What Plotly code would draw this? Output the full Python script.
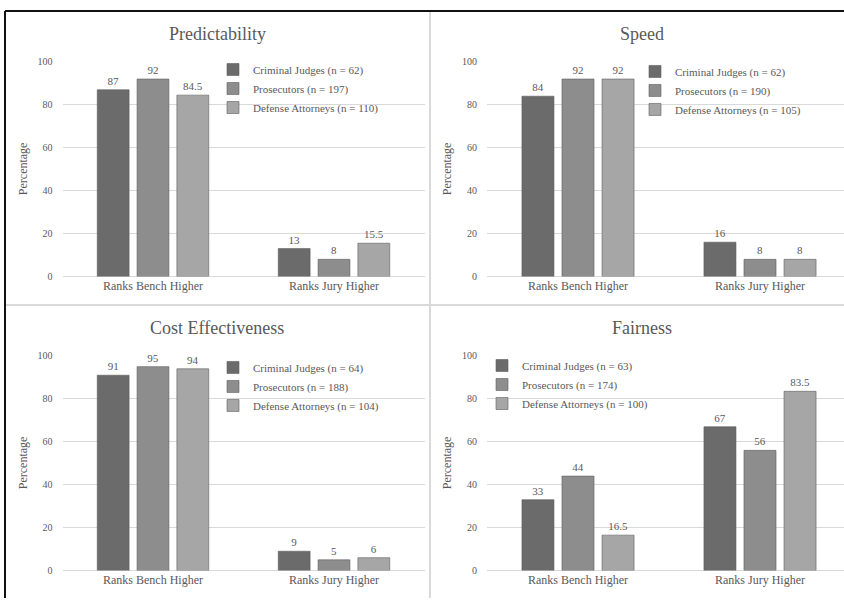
import plotly.graph_objects as go

W, H = 844, 604

categories = ["Ranks Bench Higher", "Ranks Jury Higher"]
series_names = ["Criminal Judges", "Prosecutors", "Defense Attorneys"]
colors = ["#6b6b6b", "#8d8d8d", "#a6a6a6"]

panel_titles = ["Predictability", "Speed", "Cost Effectiveness", "Fairness"]

# sample sizes per panel (Criminal Judges, Prosecutors, Defense Attorneys)
n_predictability = [62, 197, 110]
n_speed = [62, 190, 105]
n_cost = [64, 188, 104]
n_fairness = [63, 174, 100]

# values per panel: [Bench, Jury] per series
predictability_judges = [87, 13]
predictability_prosecutors = [92, 8]
predictability_defense = [84.5, 15.5]

speed_judges = [84, 16]
speed_prosecutors = [92, 8]
speed_defense = [92, 8]

cost_judges = [91, 9]
cost_prosecutors = [95, 5]
cost_defense = [94, 6]

fairness_judges = [33, 67]
fairness_prosecutors = [44, 56]
fairness_defense = [16.5, 83.5]

panels = [
    (panel_titles[0], n_predictability, [predictability_judges, predictability_prosecutors, predictability_defense]),
    (panel_titles[1], n_speed, [speed_judges, speed_prosecutors, speed_defense]),
    (panel_titles[2], n_cost, [cost_judges, cost_prosecutors, cost_defense]),
    (panel_titles[3], n_fairness, [fairness_judges, fairness_prosecutors, fairness_defense]),
]

FONT = "'Times New Roman', 'Liberation Serif', 'DejaVu Serif', serif"
TXT = "#595959"
GRID = "#d9d9d9"

def px_x(x):
    return x / W

def px_y(y):
    return 1 - y / H

# geometry (pixels)
left_x = (62.5, 424.5)
right_x = (487, 844)
right_range_end = -0.5 + (844 - 487) / 182.0
top_y = (276, 57)      # y of 0, y of 100
bot_y = (576, 357)

geo = [
    (left_x, top_y, [-0.5, 1.5]),
    (right_x, top_y, [-0.5, right_range_end]),
    (left_x, bot_y, [-0.5, 1.5]),
    (right_x, bot_y, [-0.5, right_range_end]),
]

title_pos = [(217, 29), (642, 29), (217, 329), (642, 329)]
ytitle_x = [23, 447, 23, 447]
legend_pos = [(213, 50), (635, 52), (213, 354), (482, 352)]

fig = go.Figure()
layout = dict(
    width=W, height=H,
    margin=dict(l=0, r=0, t=0, b=0),
    paper_bgcolor="white", plot_bgcolor="white",
    font=dict(family=FONT, color=TXT, size=11),
    barmode="group", bargap=0.34, bargroupgap=0.2,
    showlegend=True,
)

annotations = []
for i, (title, ns, vals) in enumerate(panels):
    k = i + 1
    xa = "x" if k == 1 else f"x{k}"
    ya = "y" if k == 1 else f"y{k}"
    leg = "legend" if k == 1 else f"legend{k}"
    for s in range(3):
        fig.add_trace(go.Bar(
            x=categories, y=vals[s],
            name=f"{series_names[s]} (n = {ns[s]})",
            marker=dict(color=colors[s], line=dict(color="#5e5e5e", width=0.6)),
            text=[f"{v:g}" for v in vals[s]],
            textposition="outside",
            textfont=dict(family=FONT, size=11, color=TXT),
            cliponaxis=False,
            xaxis=xa, yaxis=ya, legend=leg,
            hoverinfo="skip",
        ))
    (x0, x1), (y0, y1), xr = geo[i]
    layout["xaxis" if k == 1 else f"xaxis{k}"] = dict(
        domain=[px_x(x0), min(1.0, px_x(x1))], range=xr,
        anchor=ya, showgrid=False, showline=False, zeroline=False,
        ticks="", tickfont=dict(family=FONT, size=12, color=TXT),
        fixedrange=True,
    )
    layout["yaxis" if k == 1 else f"yaxis{k}"] = dict(
        domain=[px_y(y0), px_y(y1)], range=[0, 100],
        anchor=xa, tickvals=[0, 20, 40, 60, 80, 100],
        showgrid=True, gridcolor=GRID, gridwidth=1,
        zeroline=True, zerolinecolor=GRID, zerolinewidth=1,
        showline=False, ticks="", ticklabelstandoff=9,
        tickfont=dict(family=FONT, size=10, color=TXT),
        fixedrange=True,
    )
    lx, ly = legend_pos[i]
    layout[leg] = dict(
        x=px_x(lx), y=px_y(ly), xanchor="left", yanchor="top",
        bgcolor="rgba(0,0,0,0)", itemwidth=30,
        font=dict(family=FONT, size=11, color=TXT),
        itemclick=False, itemdoubleclick=False,
    )
    tx, ty = title_pos[i]
    annotations.append(dict(
        text=title, x=px_x(tx), y=px_y(ty), xref="paper", yref="paper",
        showarrow=False, xanchor="center", yanchor="middle",
        font=dict(family=FONT, size=18, color=TXT),
    ))
    annotations.append(dict(
        text="Percentage", x=px_x(ytitle_x[i]), y=px_y((y0 + y1) / 2),
        xref="paper", yref="paper", showarrow=False, textangle=-90,
        xanchor="center", yanchor="middle",
        font=dict(family=FONT, size=12, color=TXT),
    ))

layout["annotations"] = annotations
layout["shapes"] = [
    # panel separators
    dict(type="line", xref="paper", yref="paper", x0=px_x(430), x1=px_x(430), y0=px_y(5), y1=0,
         line=dict(color=GRID, width=2)),
    dict(type="line", xref="paper", yref="paper", x0=px_x(5), x1=1, y0=px_y(305), y1=px_y(305),
         line=dict(color=GRID, width=2)),
    # outer frame
    dict(type="line", xref="paper", yref="paper", x0=px_x(5), x1=1, y0=px_y(5), y1=px_y(5),
         line=dict(color="#111111", width=2)),
    dict(type="line", xref="paper", yref="paper", x0=px_x(5), x1=px_x(5), y0=px_y(5), y1=0,
         line=dict(color="#111111", width=2)),
]

fig.update_layout(**layout)
fig.write_html(
    "out.html",
    config={"displayModeBar": False},
    post_script="document.body.style.margin='0';document.body.style.padding='0';",
)
